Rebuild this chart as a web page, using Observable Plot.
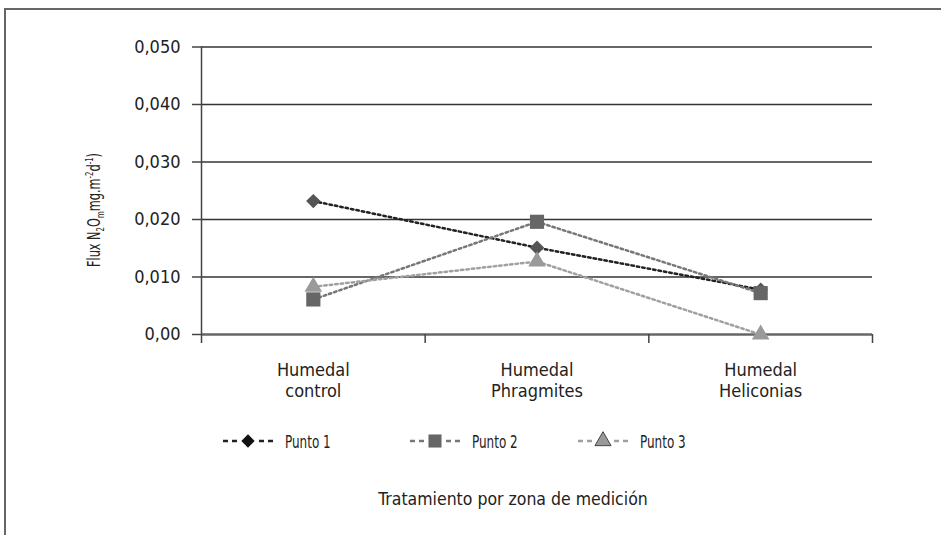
<!DOCTYPE html>
<html>
<head>
<meta charset="utf-8">
<script src="https://cdn.jsdelivr.net/npm/d3@7"></script>
<script src="https://cdn.jsdelivr.net/npm/@observablehq/plot@0.6"></script>
<style>
  html, body { margin: 0; padding: 0; background: #fff; width: 941px; height: 535px; overflow: hidden; }
  body { position: relative; font-family: "DejaVu Sans Condensed", "Liberation Sans Narrow", sans-serif; color: #222; }
  #frame { position: absolute; left: 4px; top: 8px; width: 960px; height: 560px; border-left: 2px solid #666; border-top: 2px solid #666; }
  #chart { position: absolute; left: 0; top: 0; }
  #ylabel { position: absolute; left: 95px; top: 210px; transform: translate(-50%, -50%) rotate(-90deg) scaleX(0.7); white-space: nowrap; font-size: 18px; }
  #ylabel sub, #ylabel sup { font-size: 11px; }
  .leg { position: absolute; top: 431px; height: 20px; display: flex; align-items: center; font-size: 18px; white-space: nowrap; }
  .leg svg { margin-right: 12px; }
  .leg span { display: inline-block; transform: scaleX(0.74); transform-origin: left center; }
  #xtitle { position: absolute; left: 513px; top: 499px; transform: translate(-50%, -50%); font-size: 17.5px; white-space: nowrap; }
</style>
</head>
<body>
<div id="frame"></div>
<div id="chart"></div>
<div id="ylabel">Flux N<sub>2</sub>O<sub>m</sub>mg.m<sup>-2</sup>d<sup>-1</sup>)</div>
<div id="xtitle">Tratamiento por zona de medición</div>
<script>
const categories = ["Humedal control", "Humedal Phragmites", "Humedal Heliconias"];
const seriesNames = ["Punto 1", "Punto 2", "Punto 3"];
const punto1 = [0.0232, 0.0151, 0.0078];
const punto2 = [0.0061, 0.0196, 0.0072];
const punto3 = [0.0083, 0.0127, 0.0000];
const yTicks = [0, 0.01, 0.02, 0.03, 0.04, 0.05];
const yTickLabels = ["0,00", "0,010", "0,020", "0,030", "0,040", "0,050"];

const seriesValues = [punto1, punto2, punto3];
const lineColors = ["#222", "#777", "#a0a0a0"];
const markColors = ["#555", "#666", "#9a9a9a"];
const legendMarkColors = ["#111", "#666", "#999"];
const symbols = ["diamond2", "square", "triangle"];
const radii = [6.5, 8, 6.5];

const rows = seriesValues.map((vals, s) => vals.map((v, i) => ({
  series: seriesNames[s], pos: i + 0.5, cat: categories[i], value: v
})));

const lineMarks = rows.map((r, s) => Plot.line(r, {
  x: "pos", y: "value", stroke: lineColors[s], strokeWidth: 2.5, strokeDasharray: "2.5,3"
}));
const dotOrder = [0, 2, 1];
const dotMarks = dotOrder.map(s => Plot.dot(rows[s], {
  x: "pos", y: "value", symbol: symbols[s], r: radii[s], fill: markColors[s], stroke: "none"
}));

const chart = Plot.plot({
  width: 941,
  height: 535,
  marginLeft: 201,
  marginRight: 69,
  marginTop: 46.5,
  marginBottom: 201,
  x: {domain: [0, categories.length]},
  y: {domain: [0, 0.05]},
  style: {fontFamily: '"DejaVu Sans Condensed", "Liberation Sans Narrow", sans-serif', color: "#222", background: "transparent", overflow: "visible"},
  marks: [
    Plot.ruleY(yTicks.slice(1), {stroke: "#333", strokeWidth: 1.5}),
    Plot.ruleY([0], {stroke: "#666", strokeWidth: 2.5}),
    Plot.ruleX([0], {y1: 0, y2: 0.05, stroke: "#444", strokeWidth: 1.5}),
    Plot.axisX({ticks: d3.range(categories.length + 1), tickSize: 9, tickFormat: () => "", stroke: "#444", strokeWidth: 1.5, label: null}),
    Plot.axisX({ticks: categories.map((c, i) => i + 0.5), tickSize: 0, tickPadding: 26,
      tickFormat: d => categories[Math.floor(d)].replace(" ", "\n"), fontSize: 18, lineHeight: 1.18, label: null}),
    Plot.axisY({ticks: yTicks, tickSize: 9, tickPadding: 12, stroke: "#444", strokeWidth: 1.5,
      tickFormat: d => yTickLabels[yTicks.findIndex(t => Math.abs(t - d) < 1e-9)], fontSize: 18, label: null}),
    ...lineMarks,
    ...dotMarks
  ]
});
document.getElementById("chart").appendChild(chart);

// Legend
const legendLeft = [223, 410, 578];
seriesNames.forEach((name, s) => {
  const div = document.createElement("div");
  div.className = "leg";
  div.style.left = legendLeft[s] + "px";
  const svg = d3.create("svg").attr("width", 50).attr("height", 20);
  svg.append("line").attr("x1", 0).attr("x2", 50).attr("y1", 10).attr("y2", 10)
    .attr("stroke", lineColors[s]).attr("stroke-width", 2.5).attr("stroke-dasharray", "5,4");
  const symMap = {diamond2: d3.symbolDiamond2, square: d3.symbolSquare, triangle: d3.symbolTriangle};
  svg.append("rect").attr("x", 17).attr("y", 2).attr("width", 16).attr("height", 16).attr("fill", "#fff");
  svg.append("path").attr("transform", "translate(25,10)")
    .attr("d", d3.symbol(symMap[symbols[s]], Math.PI * radii[s] * radii[s] * 0.85)())
    .attr("fill", legendMarkColors[s]).attr("stroke", s === 2 ? "#444" : "none").attr("stroke-width", 1);
  div.appendChild(svg.node());
  const span = document.createElement("span");
  span.textContent = name;
  div.appendChild(span);
  document.body.appendChild(div);
});
</script>
</body>
</html>
